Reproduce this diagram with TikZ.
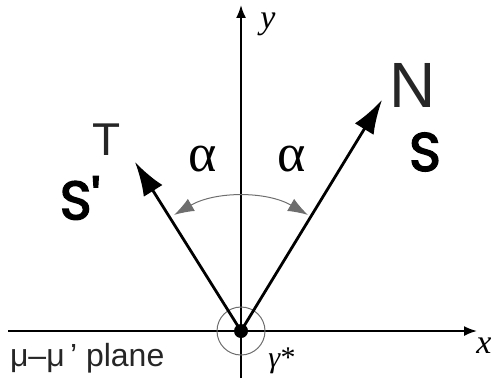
\documentclass[tikz,border=0pt]{standalone}
\usepackage{fontspec}
\setmainfont{Liberation Serif}
\setsansfont{Liberation Sans}
\newfontfamily\comicfont{Poppins}[FakeBold=3]
\usetikzlibrary{arrows.meta}
\definecolor{ArcGray}{RGB}{110,110,110}

\begin{document}
\begin{tikzpicture}[x=0.5pt, y=0.5pt,
    axis/.style={line width=0.9pt, -{Latex[length=6.5pt, width=5pt]}},
    vec/.style={line width=1.4pt, -{Latex[length=17pt, width=11pt]}},
    anglearc/.style={ArcGray, line width=0.5pt, {Latex[length=10pt, width=7pt]}-{Latex[length=10pt, width=7pt]}},
    letter/.style={font=\sffamily\fontsize{23}{23}\selectfont, text=black!85},
    spin/.style={font=\comicfont\fontsize{27}{27}\selectfont}]
      \useasboundingbox (0,0) rectangle (491,386);

      % Points
      \coordinate (o) at (241,55);
      \coordinate (xstart) at (8,55);
      \coordinate (xend) at (477,55);
      \coordinate (ystart) at (241,8);
      \coordinate (yend) at (241,381);
      \coordinate (ntip) at (382,286);
      \coordinate (ttip) at (135,224);

      % Axes
      \draw[axis] (xstart) -- (xend);
      \draw[axis] (ystart) -- (yend);
      \node[font=\fontsize{17}{17}\selectfont\itshape] (xlabel) at (484,40) {x};
      \node[font=\fontsize{17}{17}\selectfont\itshape] (ylabel) at (268,362) {y};

      % Photon circle
      \draw[ArcGray, line width=0.5pt] (o) circle[radius=24];
      \node[font=\fontsize{15}{15}\selectfont] (gamma) at (282,25) {\textit{γ}*};

      % Plane label
      \node[anchor=west, font=\sffamily\fontsize{16}{16}\selectfont, text=black!85] (plane) at (3,28) {μ–μ\,’ plane};

      % Vectors
      \draw[vec] (o) -- (ntip);
      \draw[vec] (o) -- (ttip);

      % Angle arc
      \draw[anglearc] (o) ++(120:134) arc[start angle=120, end angle=60, radius=134];
      \node[font=\fontsize{27}{27}\selectfont] (alphaleft) at (203,227) {α};
      \node[font=\fontsize{27}{27}\selectfont] (alpharight) at (292,227) {α};

      % Vertex
      \fill (o) circle[radius=7];

      % Labels
      \node[letter] (tlabel) at (107,246) {T};
      \node[letter, font=\sffamily\fontsize{32}{32}\selectfont] (nlabel) at (413,301) {N};
      \node[spin] (slabel) at (425,234) {S};
      \node[spin] (sprime) at (80,188) {S'};
\end{tikzpicture}
\end{document}
